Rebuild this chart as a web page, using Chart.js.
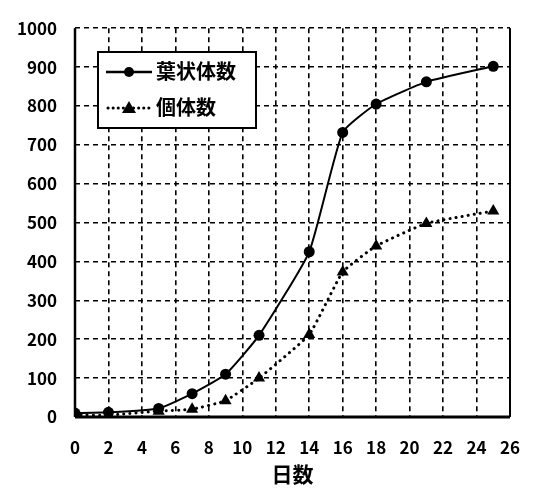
<!DOCTYPE html>
<html lang="ja">
<head>
  <meta charset="UTF-8" />
  <title>葉状体数と個体数</title>
  <script src="https://cdn.jsdelivr.net/npm/chart.js"></script>
  <style>
    html, body {
      margin: 0;
      padding: 0;
      background: #ffffff;
    }
    .wrap {
      position: relative;
      width: 545px;
      height: 491px;
    }
  </style>
</head>
<body>
  <div class="wrap">
    <canvas id="growthChart" width="545" height="491"></canvas>
  </div>

  <script>
    // days and counts
    const DAYS_FROND = [0, 2, 5, 7, 9, 11, 14, 16, 18, 21, 25];
    const FROND_COUNT = [10, 12, 22, 60, 110, 210, 425, 732, 805, 862, 902];
    const DAYS_PLANT = [0, 2, 5, 7, 9, 11, 14, 16, 18, 21, 25];
    const PLANT_COUNT = [5, 5, 15, 20, 42, 100, 212, 373, 440, 498, 530];
    const X_TICKS = [0, 2, 4, 6, 8, 10, 12, 14, 16, 18, 20, 22, 24, 26];
    const SERIES_NAMES = ["葉状体数", "個体数"];

    const FONT = "'Noto Sans CJK JP', 'Noto Sans', sans-serif";

    const toPoints = (xs, ys) => xs.map((x, i) => ({ x, y: ys[i] }));

    // legend box drawn inside the plot, like the original
    const boxLegend = {
      id: "boxLegend",
      afterDraw(chart) {
        const ctx = chart.ctx;
        const x0 = 98, y0 = 52, w = 158, h = 76;
        ctx.save();
        ctx.fillStyle = "#fff";
        ctx.fillRect(x0, y0, w, h);
        ctx.strokeStyle = "#000";
        ctx.lineWidth = 2;
        ctx.setLineDash([]);
        ctx.strokeRect(x0, y0, w, h);

        // row 1: solid line + circle
        let cy = y0 + 20;
        ctx.lineWidth = 2.5;
        ctx.beginPath();
        ctx.moveTo(x0 + 8, cy);
        ctx.lineTo(x0 + 54, cy);
        ctx.stroke();
        ctx.fillStyle = "#000";
        ctx.beginPath();
        ctx.arc(x0 + 31, cy, 5, 0, Math.PI * 2);
        ctx.fill();

        // row 2: dotted line + triangle
        cy = y0 + 56;
        ctx.lineWidth = 3;
        ctx.lineCap = "round";
        ctx.setLineDash([0.1, 5]);
        ctx.beginPath();
        ctx.moveTo(x0 + 10, cy);
        ctx.lineTo(x0 + 54, cy);
        ctx.stroke();
        ctx.setLineDash([]);
        ctx.beginPath();
        ctx.moveTo(x0 + 31, cy - 7);
        ctx.lineTo(x0 + 38, cy + 5);
        ctx.lineTo(x0 + 24, cy + 5);
        ctx.closePath();
        ctx.fill();

        ctx.font = "bold 20px " + FONT;
        ctx.textBaseline = "middle";
        ctx.textAlign = "left";
        ctx.fillText(SERIES_NAMES[0], x0 + 58, y0 + 19);
        ctx.fillText(SERIES_NAMES[1], x0 + 58, y0 + 55);
        ctx.restore();
      }
    };

    // solid frame on right, thick axes on left and bottom
    const frame = {
      id: "frame",
      beforeDatasetsDraw(chart) {
        const { ctx, chartArea: a } = chart;
        ctx.save();
        ctx.strokeStyle = "#000";
        ctx.setLineDash([]);
        ctx.lineWidth = 2;
        ctx.beginPath();
        ctx.moveTo(a.right, a.top);
        ctx.lineTo(a.right, a.bottom);
        ctx.stroke();
        ctx.lineWidth = 2.5;
        ctx.beginPath();
        ctx.moveTo(a.left, a.top);
        ctx.lineTo(a.left, a.bottom);
        ctx.stroke();
        ctx.lineWidth = 3;
        ctx.beginPath();
        ctx.moveTo(a.left, a.bottom);
        ctx.lineTo(a.right, a.bottom);
        ctx.stroke();
        ctx.restore();
      }
    };

    const ctx = document.getElementById("growthChart").getContext("2d");
    new Chart(ctx, {
      type: "line",
      data: {
        datasets: [
          {
            label: SERIES_NAMES[0],
            data: toPoints(DAYS_FROND, FROND_COUNT),
            borderColor: "#000",
            backgroundColor: "#000",
            borderWidth: 2,
            tension: 0.15,
            pointStyle: "circle",
            pointRadius: 5.5,
            pointBorderWidth: 0,
          },
          {
            label: SERIES_NAMES[1],
            data: toPoints(DAYS_PLANT, PLANT_COUNT),
            borderColor: "#000",
            backgroundColor: "#000",
            borderWidth: 3,
            borderDash: [0.1, 6],
            borderCapStyle: "round",
            tension: 0.12,
            pointStyle: "triangle",
            pointRadius: 7,
            pointBorderWidth: 0,
          },
        ],
      },
      options: {
        responsive: false,
        animation: false,
        layout: { padding: { top: 25, right: 35, left: 0, bottom: 0 } },
        plugins: {
          legend: { display: false },
          tooltip: { enabled: false },
        },
        scales: {
          x: {
            type: "linear",
            min: 0,
            max: 26,
            afterBuildTicks: axis => {
              axis.ticks = X_TICKS.map(v => ({ value: v }));
            },
            afterFit: axis => { axis.height = 74; },
            grid: {
              color: "#000",
              lineWidth: 1.6,
              drawTicks: false,
            },
            border: { display: false, dash: [5, 4] },
            ticks: {
              padding: 20,
              color: "#000",
              maxRotation: 0,
              autoSkip: false,
              font: { family: FONT, size: 17, weight: "bold" },
            },
            title: {
              display: true,
              text: "日数",
              color: "#000",
              padding: { top: 2 },
              font: { family: FONT, size: 21, weight: "bold" },
            },
          },
          y: {
            min: 0,
            max: 1000,
            afterFit: axis => { axis.width = 75; },
            grid: {
              color: "#000",
              lineWidth: 1.6,
              drawTicks: false,
            },
            border: { display: false, dash: [5, 4] },
            ticks: {
              stepSize: 100,
              padding: 18,
              color: "#000",
              callback: v => String(v),
              font: { family: FONT, size: 17, weight: "bold" },
            },
          },
        },
      },
      plugins: [frame, boxLegend],
    });
  </script>
</body>
</html>
